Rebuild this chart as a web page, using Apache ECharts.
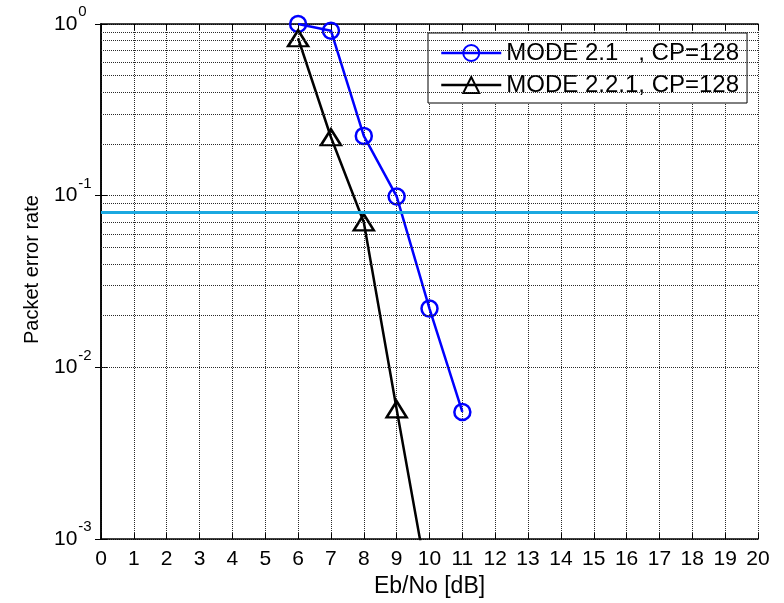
<!DOCTYPE html>
<html>
<head>
<meta charset="utf-8">
<script src="https://cdn.jsdelivr.net/npm/echarts@6/dist/echarts.min.js"></script>
<style>
  html, body { margin: 0; padding: 0; background: #fff; }
  #chart { width: 784px; height: 603px; }
</style>
</head>
<body>
<div id="chart"></div>
<script>
// Eb/No points (dB)
const ebnoMode21 = [6, 7, 8, 9, 10, 11]
const perMode21 = [1.0, 0.914, 0.223, 0.099, 0.022, 0.0055]
const ebnoMode221 = [6, 7, 8, 9, 10]
const perMode221 = [0.826, 0.219, 0.070, 0.0057, 0.00049]
// target PER level (horizontal line)
const perTarget = 0.0786
// log axis decades and minor steps for the grid
const decades = [0.001, 0.01, 0.1]
const minorSteps = [2, 3, 4, 5, 6, 7, 8, 9]

const font = 'Liberation Sans, Arial, sans-serif'
const gridLine = { color: '#2a2a2a', type: 'dotted', width: 1 }

const minorLines = []
decades.forEach(d => {
  minorSteps.forEach(m => {
    minorLines.push({ yAxis: +(d * m).toPrecision(3) })
  })
})

let chart = echarts.init(document.getElementById('chart'))
chart.setOption({
  animation: false,
  backgroundColor: '#fff',
  textStyle: { fontFamily: font },
  grid: {
    left: 101,
    right: 26,
    top: 24,
    bottom: 62
  },
  legend: {
    orient: 'vertical',
    left: 428,
    top: 33,
    padding: [8, 8, 6, 12],
    itemGap: 8,
    itemWidth: 60,
    itemHeight: 20,
    backgroundColor: '#fff',
    borderColor: '#000',
    borderWidth: 1,
    borderRadius: 0,
    lineStyle: { width: 2.5 },
    textStyle: { fontSize: 24, lineHeight: 24, color: '#000', fontFamily: font },
    data: ['MODE 2.1   , CP=128', 'MODE 2.2.1, CP=128']
  },
  xAxis: [
    {
      type: 'value',
      min: 0,
      max: 20,
      interval: 1,
      name: 'Eb/No [dB]',
      nameLocation: 'middle',
      nameGap: 35,
      nameTextStyle: { fontSize: 23, color: '#000', fontFamily: font },
      axisLine: { lineStyle: { color: '#000', width: 1.5 } },
      axisTick: { inside: true, length: 6, lineStyle: { color: '#000' } },
      axisLabel: { fontSize: 21, color: '#000', margin: 10, fontFamily: font },
      splitLine: { show: true, lineStyle: gridLine }
    },
    {
      type: 'value',
      position: 'top',
      min: 0,
      max: 20,
      interval: 1,
      axisLine: { show: true, lineStyle: { color: '#000', width: 1.5 } },
      axisTick: { inside: true, length: 6, lineStyle: { color: '#000' } },
      axisLabel: { show: false },
      splitLine: { show: false }
    }
  ],
  yAxis: [
    {
      type: 'log',
      logBase: 10,
      min: 0.001,
      max: 1,
      name: 'Packet error rate',
      nameLocation: 'middle',
      nameGap: 59,
      nameTextStyle: { fontSize: 20, color: '#000', fontFamily: font, padding: [0, 0, 0, 24] },
      axisLine: { show: true, lineStyle: { color: '#000', width: 1.5 } },
      axisTick: { show: true, inside: true, length: 6, lineStyle: { color: '#000' } },
      axisLabel: {
        align: 'left',
        margin: 47,
        formatter: v => '{b|10}{s|' + Math.round(Math.log10(v)) + '}',
        rich: {
          b: { fontSize: 21, color: '#000', fontFamily: font },
          s: { fontSize: 15, color: '#000', fontFamily: font, padding: [0, 0, 24, 1] }
        }
      },
      splitLine: { show: true, lineStyle: gridLine }
    },
    {
      type: 'log',
      logBase: 10,
      min: 0.001,
      max: 1,
      position: 'right',
      axisLine: { show: true, lineStyle: { color: '#000', width: 1.5 } },
      axisTick: { show: true, inside: true, length: 6, lineStyle: { color: '#000' } },
      axisLabel: { show: false },
      splitLine: { show: false }
    }
  ],
  series: [
    {
      name: 'minor grid',
      type: 'line',
      data: [],
      silent: true,
      z: 1,
      markLine: {
        silent: true,
        symbol: 'none',
        label: { show: false },
        lineStyle: gridLine,
        data: minorLines
      }
    },
    {
      name: 'target',
      type: 'line',
      data: [],
      silent: true,
      z: 2,
      markLine: {
        silent: true,
        symbol: 'none',
        label: { show: false },
        lineStyle: { color: '#1ba9e1', type: 'solid', width: 3 },
        data: [{ yAxis: perTarget }]
      }
    },
    {
      name: 'MODE 2.1   , CP=128',
      type: 'line',
      z: 3,
      data: ebnoMode21.map((x, i) => [x, perMode21[i]]),
      symbol: 'circle',
      symbolSize: 16,
      lineStyle: { color: '#0000ff', width: 2.5 },
      itemStyle: { color: 'rgba(0,0,0,0)', borderColor: '#0000ff', borderWidth: 2.5 }
    },
    {
      name: 'MODE 2.2.1, CP=128',
      type: 'line',
      z: 3,
      data: ebnoMode221.map((x, i) => [x, perMode221[i]]),
      symbol: 'triangle',
      symbolSize: [20, 16],
      lineStyle: { color: '#000', width: 2.5 },
      itemStyle: { color: 'rgba(0,0,0,0)', borderColor: '#000', borderWidth: 2.5 }
    }
  ]
})
</script>
</body>
</html>
